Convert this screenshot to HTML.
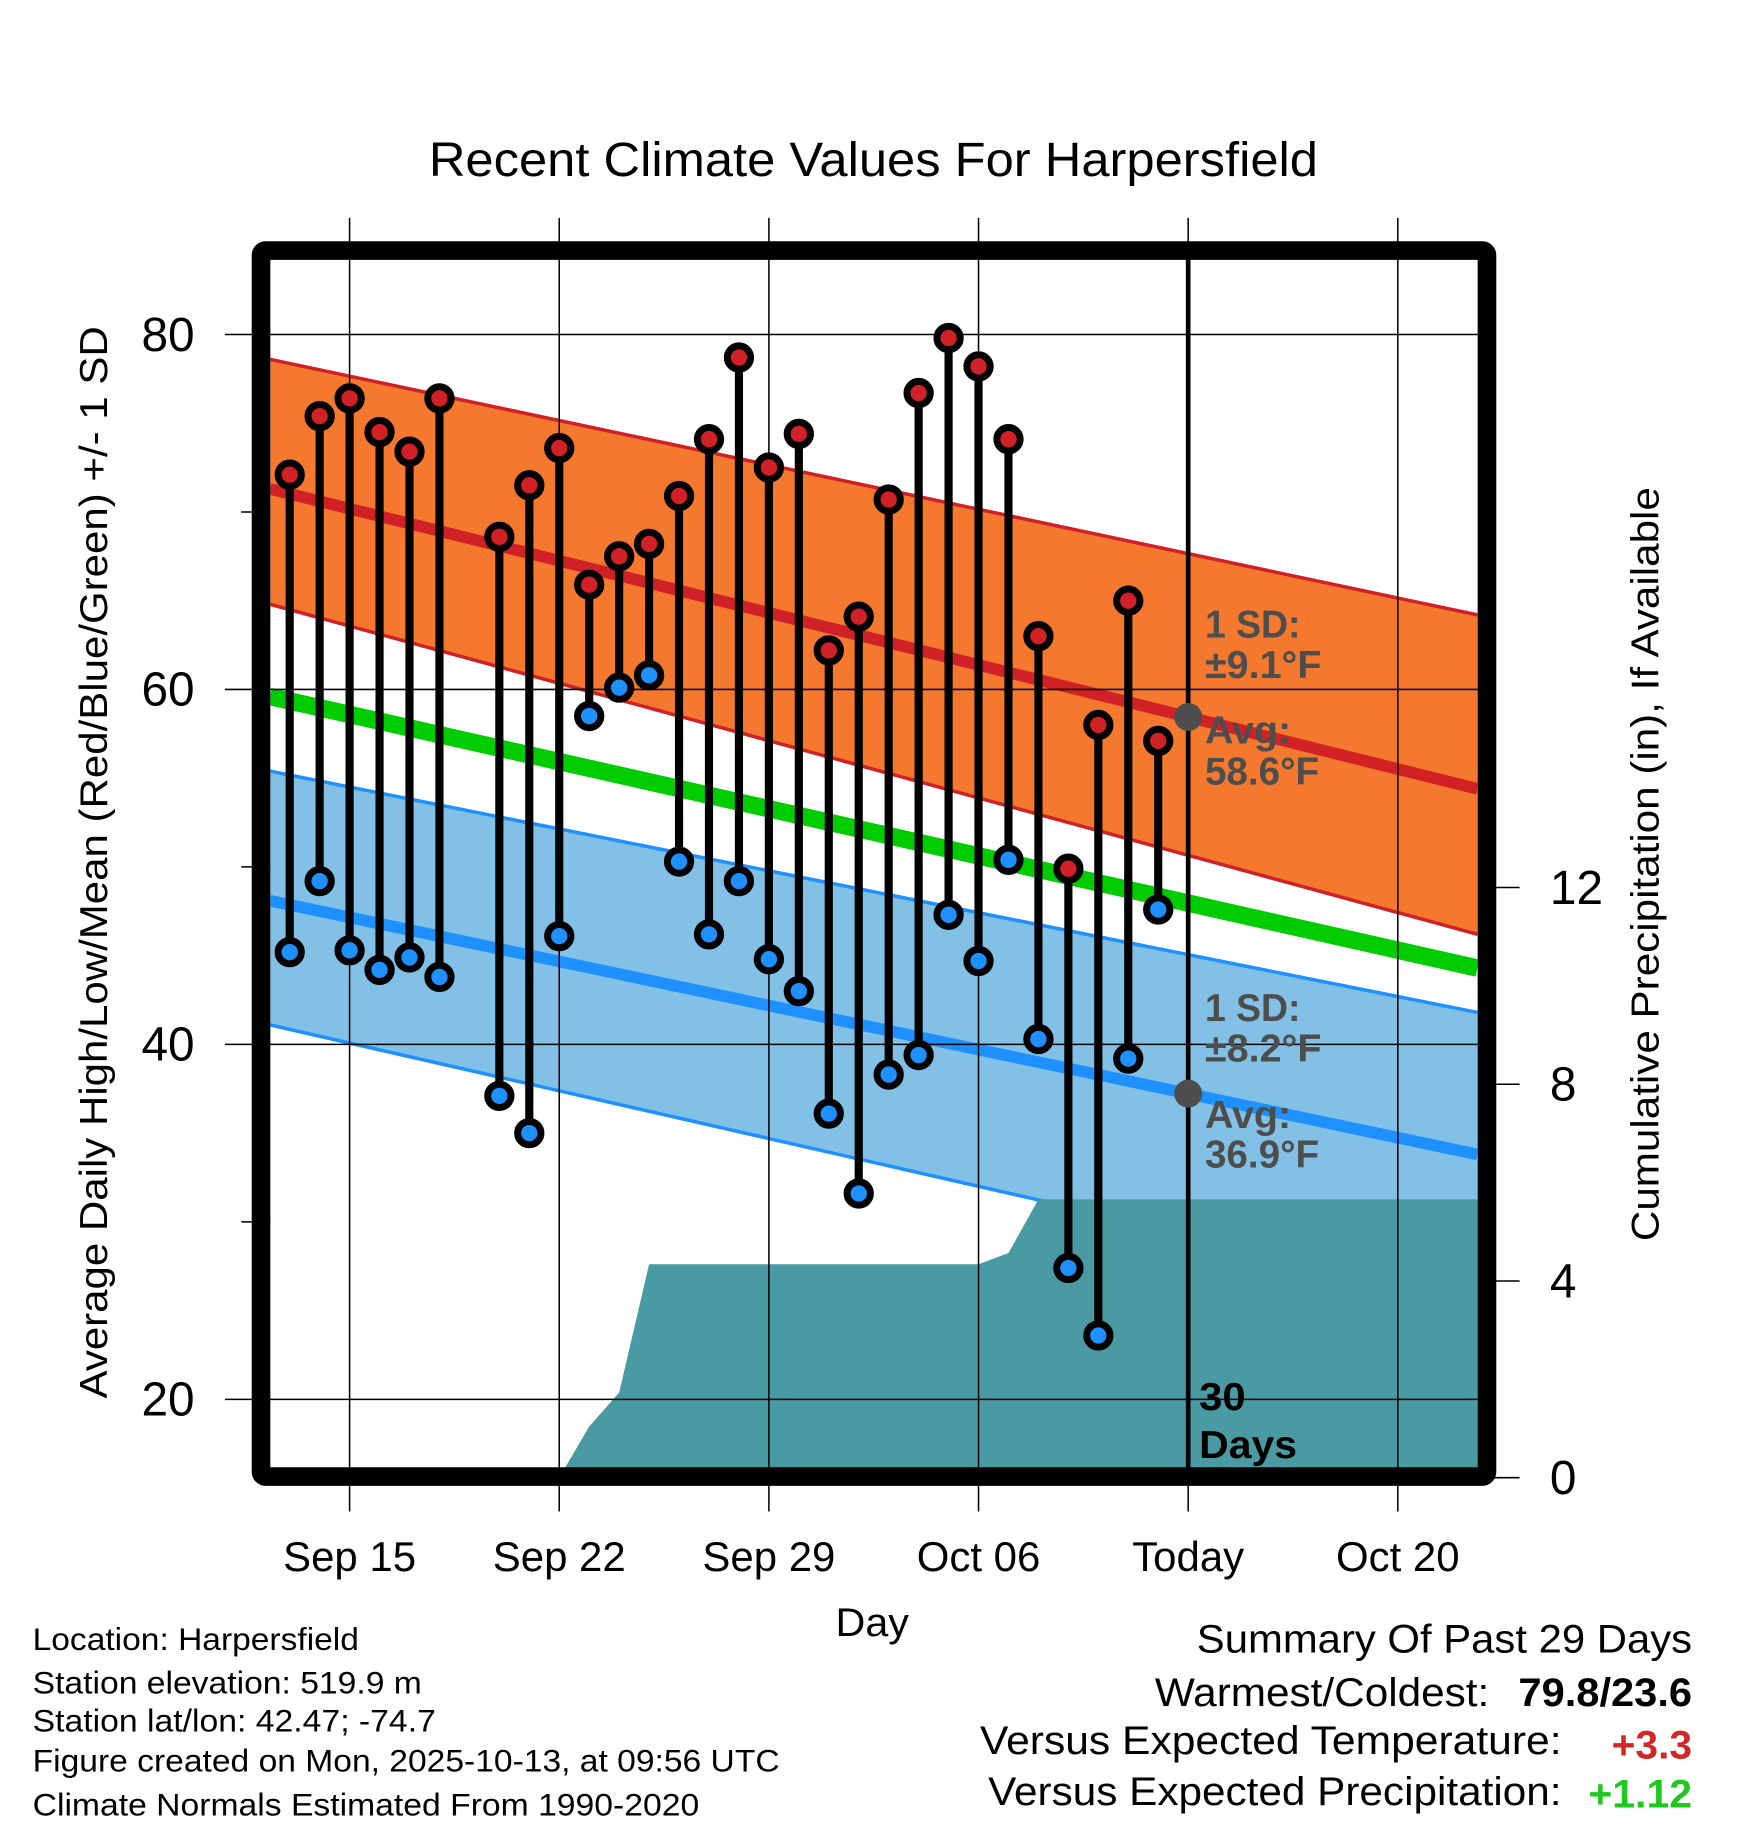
<!DOCTYPE html>
<html><head><meta charset="utf-8"><style>
html,body{margin:0;padding:0;background:#fff;}
svg{display:block;font-family:"Liberation Sans",Arial,sans-serif;}
</style></head><body>
<svg id="chart" width="1748" height="1828" viewBox="0 0 1500 1568.6" preserveAspectRatio="none" xmlns="http://www.w3.org/2000/svg">
<defs><clipPath id="plotclip"><rect x="232" y="222" width="1036" height="1038"/></clipPath></defs>
<text x="368" y="151" font-size="41" textLength="763" lengthAdjust="spacingAndGlyphs">Recent Climate Values For Harpersfield</text>
<g id="fills" clip-path="url(#plotclip)"></g>
<g id="grid"></g>
<g id="marks"></g>
<rect x="224" y="215" width="1052" height="1052" rx="4" fill="none" stroke="#000" stroke-width="16"/>
<g id="axes"></g>
<text transform="translate(92,1200) rotate(-90)" font-size="33" textLength="920" lengthAdjust="spacingAndGlyphs">Average Daily High/Low/Mean (Red/Blue/Green) +/- 1 SD</text>
<text transform="translate(1423,1065) rotate(-90)" font-size="33" textLength="647" lengthAdjust="spacingAndGlyphs">Cumulative Precipitation (in), If Available</text>
<text x="717" y="1404" font-size="34" textLength="63" lengthAdjust="spacingAndGlyphs">Day</text>
<g font-size="27">
<text x="28" y="1416" textLength="280" lengthAdjust="spacingAndGlyphs">Location: Harpersfield</text>
<text x="28" y="1453" textLength="334" lengthAdjust="spacingAndGlyphs">Station elevation: 519.9 m</text>
<text x="28" y="1486" textLength="346" lengthAdjust="spacingAndGlyphs">Station lat/lon: 42.47; -74.7</text>
<text x="28" y="1520" textLength="641" lengthAdjust="spacingAndGlyphs">Figure created on Mon, 2025-10-13, at 09:56 UTC</text>
<text x="28" y="1558" textLength="572" lengthAdjust="spacingAndGlyphs">Climate Normals Estimated From 1990-2020</text>
</g>
<g font-size="34">
<text x="1027" y="1418" textLength="425" lengthAdjust="spacingAndGlyphs">Summary Of Past 29 Days</text>
<text x="991" y="1464" textLength="287" lengthAdjust="spacingAndGlyphs">Warmest/Coldest:</text>
<text x="1303" y="1464" font-weight="bold" textLength="149" lengthAdjust="spacingAndGlyphs">79.8/23.6</text>
<text x="841" y="1505" textLength="499" lengthAdjust="spacingAndGlyphs">Versus Expected Temperature:</text>
<text x="1383" y="1509" font-weight="bold" fill="#d02828" textLength="69" lengthAdjust="spacingAndGlyphs">+3.3</text>
<text x="848" y="1549" textLength="492" lengthAdjust="spacingAndGlyphs">Versus Expected Precipitation:</text>
<text x="1363" y="1551" font-weight="bold" fill="#1ec81e" textLength="89" lengthAdjust="spacingAndGlyphs">+1.12</text>
</g>
<g id="labels"></g>
</svg>
<script>
// Data: days relative to Sep 15 (Sep 13 = -2)
const days  = [-2,-1,0,1,2,3,5,6,7,8,9,10,11,12,13,14,15,16,17,18,19,20,21,22,23,24,25,26,27];
const highs = [72.1,75.4,76.4,74.5,73.4,76.4,68.6,71.5,73.6,65.9,67.5,68.2,70.9,74.1,78.7,72.5,74.4,62.2,64.1,70.7,76.7,79.8,78.2,74.1,63.0,49.9,58.0,65.0,57.1];
const lows  = [45.2,49.2,45.3,44.2,44.9,43.8,37.1,35.0,46.1,58.5,60.1,60.8,50.3,46.2,49.2,44.8,43.0,36.1,31.6,38.3,39.4,47.3,44.7,50.4,40.3,27.4,23.6,39.2,47.6];
// cumulative precipitation (in)
const precipDays = [7,8,9,10,21,22,23,37.7];
const precipCum  = [0,1.04,1.73,4.34,4.34,4.57,5.66,5.66];
// normals at plot left / right edge (day -2.66 / 37.66)
const normDays = [-2.66,37.66];
const highMean = [71.3,54.4], highUp=[78.6,64.2], highLo=[64.8,46.2];
const avgMean  = [59.6,44.3];
const lowMean  = [48.1,33.8], lowUp=[55.4,41.8], lowLo=[41.1,25.6];
const xTickDays = [0,7,14,21,28,35];
const xTickLabels = ["Sep 15","Sep 22","Sep 29","Oct 06","Today","Oct 20"];
const yTicks = [20,40,60,80], yMinor=[30,50,70];
const pTicks = [0,4,8,12];
const todayDay = 28;

const NS="http://www.w3.org/2000/svg";
const X=d=>300+25.7*d, Y=v=>287+(80-v)*15.23, P=p=>1268-p*42.2;
function mk(parent,tag,attrs){const e=document.createElementNS(NS,tag);for(const k in attrs)e.setAttribute(k,attrs[k]);document.getElementById(parent).appendChild(e);return e;}
function band(up,lo){return `M${X(normDays[0])},${Y(up[0])} L${X(normDays[1])},${Y(up[1])} L${X(normDays[1])},${Y(lo[1])} L${X(normDays[0])},${Y(lo[0])} Z`;}
function line(a){return `M${X(normDays[0])},${Y(a[0])} L${X(normDays[1])},${Y(a[1])}`;}

let e;
e=mk('fills','path',{d:band(lowUp,lowLo),fill:'#83c0e6'});


e=mk('fills','path',{d:band(highUp,highLo),fill:'#f4782e'});


[[highUp,'#d02127',3],[highLo,'#d02127',3],[lowUp,'#1e90ff',3],[lowLo,'#1e90ff',3]].forEach(([a,c,w])=>{
  e=mk('fills','path',{d:line(a),stroke:c,'stroke-width':w,fill:'none'});
  
  
});
let pd=`M${X(precipDays[0])},1262`;
precipDays.forEach((d,i)=>{pd+=` L${X(d)},${P(precipCum[i])}`;});
pd+=` L${X(precipDays[precipDays.length-1])},1262 Z`;
e=mk('fills','path',{d:pd,fill:'#499aa3'});


e=mk('fills','path',{d:line(avgMean),stroke:'#00cc00','stroke-width':15,fill:'none'});


e=mk('fills','path',{d:line(highMean),stroke:'#d02127','stroke-width':10,fill:'none'});


e=mk('fills','path',{d:line(lowMean),stroke:'#1e90ff','stroke-width':10,fill:'none'});



// grid + ticks
xTickDays.forEach((d,i)=>{
  e=mk('grid','line',{x1:X(d),x2:X(d),y1:187,y2:1297,stroke:'#000','stroke-width':1.3});
  
  
  e=mk('axes','text',{x:X(d),y:1348,'font-size':36,'text-anchor':'middle'});
  e.textContent=xTickLabels[i];
  
  
});
yTicks.forEach(v=>{
  e=mk('grid','line',{x1:193,x2:1268,y1:Y(v),y2:Y(v),stroke:'#000','stroke-width':1.3});
  
  
  e=mk('axes','text',{x:167,y:Y(v)+14,'font-size':41,'text-anchor':'end'});
  e.textContent=v;
  
  
});
yMinor.forEach(v=>{
  e=mk('grid','line',{x1:207,x2:232,y1:Y(v),y2:Y(v),stroke:'#000','stroke-width':1.3});
  
  
});
pTicks.forEach(p=>{
  e=mk('axes','line',{x1:1276,x2:1304,y1:P(p),y2:P(p),stroke:'#000','stroke-width':1.3});
  
  
  e=mk('axes','text',{x:1330,y:P(p)+14,'font-size':41,'text-anchor':'start'});
  e.textContent=p;
  
  
});

// stems + markers
days.forEach((d,i)=>{
  e=mk('marks','line',{x1:X(d),x2:X(d),y1:Y(highs[i]),y2:Y(lows[i]),stroke:'#000','stroke-width':7});
  
  
  e=mk('marks','circle',{cx:X(d),cy:Y(highs[i]),r:10,fill:'#d02127',stroke:'#000','stroke-width':6});
  
  
  e=mk('marks','circle',{cx:X(d),cy:Y(lows[i]),r:10,fill:'#1e90ff',stroke:'#000','stroke-width':6});
  
  
});
e=mk('marks','line',{x1:X(todayDay),x2:X(todayDay),y1:222,y2:1262,stroke:'#000','stroke-width':4});


const todayHigh = highMean[0]+(highMean[1]-highMean[0])*(todayDay-normDays[0])/(normDays[1]-normDays[0]);
const todayLow = lowMean[0]+(lowMean[1]-lowMean[0])*(todayDay-normDays[0])/(normDays[1]-normDays[0]);
[todayHigh,todayLow].forEach(v=>{
  e=mk('marks','circle',{cx:X(todayDay),cy:Y(v),r:12,fill:'#4d4d4d'});
  
  
});
const lbl=[["1 SD:",547,82],["±9.1°F",582,100],["Avg:",638,74],["58.6°F",673,98],["1 SD:",876,82],["±8.2°F",911,100],["Avg:",968,74],["36.9°F",1002,98]];
lbl.forEach(([t,y,w])=>{
  e=mk('labels','text',{x:1034,y:y,'font-size':33,'font-weight':'bold',fill:'#4d4d4d',textLength:w,lengthAdjust:'spacingAndGlyphs'});
  e.textContent=t;
  
  
});
[["30",1210,40],["Days",1251,84]].forEach(([t,y,w])=>{
  e=mk('labels','text',{x:1029,y:y,'font-size':33,'font-weight':'bold',fill:'#000',textLength:w,lengthAdjust:'spacingAndGlyphs'});
  e.textContent=t;
  
  
});
</script>
</body></html>
